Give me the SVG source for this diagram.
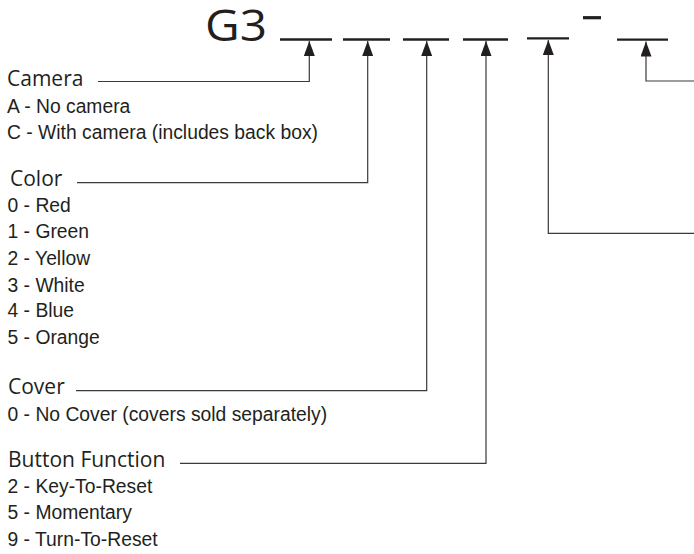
<svg xmlns="http://www.w3.org/2000/svg" width="694" height="554" viewBox="0 0 694 554">
<style>
.title{font-family:"Open Sans","DejaVu Sans",sans-serif;font-size:44px;fill:#231f20}
.hdr{font-family:"Open Sans","DejaVu Sans",sans-serif;font-size:21px;fill:#231f20}
.item{font-family:"Liberation Sans",Arial,sans-serif;font-size:21px;fill:#231f20}
.blank{stroke:#231f20;stroke-width:2.3;fill:none}
.conn{stroke:#3a3a3a;stroke-width:1.2;fill:none}
</style>
<defs>
<marker id="ah" viewBox="0 0 15 11" refX="15" refY="5.5" markerWidth="15" markerHeight="11" markerUnits="userSpaceOnUse" orient="auto">
<path d="M0,0 L15,5.5 L0,11 Z" fill="#231f20"/>
</marker>
</defs>
<rect width="694" height="554" fill="#fff"/>
<g id="title">
<text class="title" x="205" y="41" textLength="62" lengthAdjust="spacingAndGlyphs">G3</text>
<line class="blank" x1="280" y1="39.5" x2="332" y2="39.5"/>
<line class="blank" x1="343" y1="39.5" x2="390" y2="39.5"/>
<line class="blank" x1="403" y1="39.5" x2="449" y2="39.5"/>
<line class="blank" x1="463" y1="39.5" x2="508" y2="39.5"/>
<line class="blank" x1="527" y1="38.3" x2="569" y2="38.3"/>
<line x1="583" y1="17.7" x2="601" y2="17.7" stroke="#231f20" stroke-width="3.2"/>
<line class="blank" x1="617" y1="39.7" x2="668" y2="39.7"/>
</g>
<g id="connectors">
<polyline class="conn" points="98,81.5 309.3,81.5 309.3,41" marker-end="url(#ah)"/>
<polyline class="conn" points="77,182.7 367.7,182.7 367.7,41" marker-end="url(#ah)"/>
<polyline class="conn" points="76,390.7 426.7,390.7 426.7,41" marker-end="url(#ah)"/>
<polyline class="conn" points="180,463.3 486,463.3 486,41" marker-end="url(#ah)"/>
<polyline class="conn" points="694,233.3 548.3,233.3 548.3,40" marker-end="url(#ah)"/>
<polyline class="conn" points="694,81 646,81 646,41.5" marker-end="url(#ah)"/>
</g>
<g id="camera">
<text class="hdr" x="7" y="86">Camera</text>
<g transform="translate(7 0) scale(0.92 1)">
<text class="item" x="0" y="112.7">A - No camera</text>
<text class="item" x="0" y="139.3">C - With camera (includes back box)</text>
</g>
</g>
<g id="color">
<text class="hdr" x="10" y="186">Color</text>
<g transform="translate(7.5 0) scale(0.92 1)">
<text class="item" x="0" y="211.7">0 - Red</text>
<text class="item" x="0" y="238.3">1 - Green</text>
<text class="item" x="0" y="265">2 - Yellow</text>
<text class="item" x="0" y="291.7">3 - White</text>
<text class="item" x="0" y="317.3">4 - Blue</text>
<text class="item" x="0" y="344">5 - Orange</text>
</g>
</g>
<g id="cover">
<text class="hdr" x="8" y="394">Cover</text>
<g transform="translate(7.5 0) scale(0.92 1)">
<text class="item" x="0" y="420.7">0 - No Cover (covers sold separately)</text>
</g>
</g>
<g id="button">
<text class="hdr" x="8" y="466.7">Button Function</text>
<g transform="translate(7.5 0) scale(0.92 1)">
<text class="item" x="0" y="492.7">2 - Key-To-Reset</text>
<text class="item" x="0" y="519.3">5 - Momentary</text>
<text class="item" x="0" y="546">9 - Turn-To-Reset</text>
</g>
</g>
</svg>
